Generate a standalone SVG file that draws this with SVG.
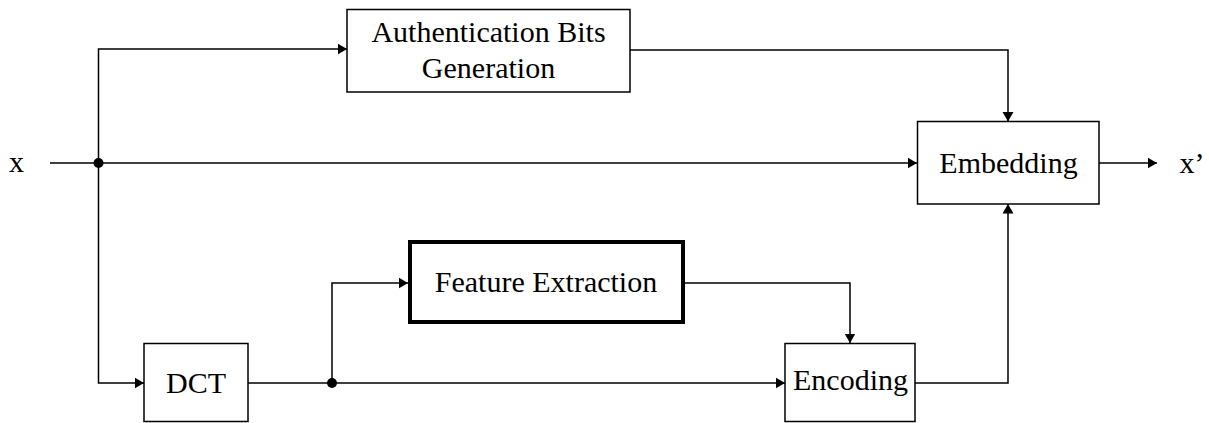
<svg xmlns="http://www.w3.org/2000/svg" width="1209" height="423" viewBox="0 0 1209 423">
  <defs>
    <marker id="arrow" markerWidth="10" markerHeight="12" refX="9.5" refY="6" orient="auto" markerUnits="userSpaceOnUse">
      <path d="M0,0.5 L9.5,6 L0,11.5 Z" fill="#000"/>
    </marker>
  </defs>
  <style>
    .box { fill: #fff; stroke: #000; stroke-width: 1.5; }
    .thick { fill: #fff; stroke: #000; stroke-width: 4; }
    .lbl { font-family: "Liberation Serif", "Times New Roman", serif; font-size: 30px; fill: #000; text-anchor: middle; }
    .wire { fill: none; stroke: #000; stroke-width: 1.5; }
    .arr { marker-end: url(#arrow); }
  </style>
  <rect width="1209" height="423" fill="#fff"/>

  <!-- signal flow -->
  <g id="connectors">
    <!-- input x to embedding -->
    <path class="wire arr" d="M50,163 H917"/>
    <!-- branch to authentication bits generation -->
    <path class="wire arr" d="M98.5,163 V49 H347"/>
    <!-- branch to DCT -->
    <path class="wire arr" d="M98.5,163 V383 H144"/>
    <!-- DCT output to encoding -->
    <path class="wire arr" d="M248,383 H785"/>
    <!-- DCT output to feature extraction -->
    <path class="wire arr" d="M332,383 V283 H408"/>
    <!-- feature extraction to encoding -->
    <path class="wire arr" d="M685,283 H850 V343"/>
    <!-- authentication bits to embedding -->
    <path class="wire arr" d="M630,50 H1008 V121.5"/>
    <!-- encoding to embedding -->
    <path class="wire arr" d="M915,383 H1008 V204"/>
    <!-- embedding output -->
    <path class="wire arr" d="M1099,163 H1157"/>
    <!-- junction dots -->
    <circle cx="98.5" cy="163" r="5" fill="#000"/>
    <circle cx="332" cy="383" r="5" fill="#000"/>
  </g>

  <g id="input">
    <text class="lbl" x="16.5" y="172">x</text>
  </g>

  <g id="auth">
    <rect class="box" x="347" y="9.5" width="283" height="82.5"/>
    <text class="lbl" x="488.5" y="42">Authentication Bits</text>
    <text class="lbl" x="488.5" y="78">Generation</text>
  </g>

  <g id="embedding">
    <rect class="box" x="917.5" y="121.5" width="181.5" height="82.5"/>
    <text class="lbl" x="1008.5" y="173">Embedding</text>
  </g>

  <g id="output">
    <text class="lbl" x="1192" y="173">x’</text>
  </g>

  <g id="dct">
    <rect class="box" x="144" y="343.5" width="104" height="78"/>
    <text class="lbl" x="196" y="393">DCT</text>
  </g>

  <g id="feature">
    <rect class="thick" x="410" y="242" width="273" height="80"/>
    <text class="lbl" x="546" y="292">Feature Extraction</text>
  </g>

  <g id="encoding">
    <rect class="box" x="785" y="343.5" width="130" height="78"/>
    <text class="lbl" x="850.5" y="390">Encoding</text>
  </g>
</svg>
